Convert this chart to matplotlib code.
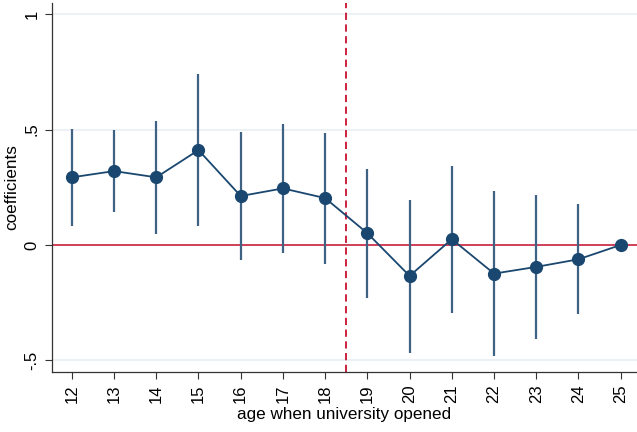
import numpy as np
import matplotlib
matplotlib.use("Agg")
import matplotlib.pyplot as plt

plt.rcParams['font.family'] = ['Liberation Sans', 'DejaVu Sans']

# age when university opened
ages = [12, 13, 14, 15, 16, 17, 18, 19, 20, 21, 22, 23, 24, 25]
# point estimates
coefs = [0.293, 0.320, 0.293, 0.411, 0.212, 0.245, 0.203, 0.051,
         -0.134, 0.025, -0.124, -0.095, -0.062, 0.0]
# 95% CI bounds (age 25 is the reference category)
ci_low = [0.084, 0.143, 0.049, 0.084, -0.065, -0.036, -0.081, -0.228,
          -0.466, -0.293, -0.482, -0.408, -0.298, 0.0]
ci_high = [0.502, 0.496, 0.537, 0.739, 0.491, 0.524, 0.485, 0.328,
           0.195, 0.342, 0.232, 0.216, 0.176, 0.0]

ytick_vals = [-0.5, 0, 0.5, 1]
ytick_labels = ['-.5', '0', '.5', '1']
cutoff = 18.5

navy = '#1a476f'
ci_col = '#3e6283'
red = '#c8102e'

fig = plt.figure(figsize=(6.37, 4.32), dpi=100)
ax = fig.add_axes([0.0816, 0.139, 0.918, 0.854])

for y in ytick_vals:
    ax.axhline(y, color='#e8eff2', lw=1.2, zorder=0)

ax.axhline(0, color=red, lw=1.1, zorder=1)
ax.axvline(cutoff, color=red, lw=1.3, ls=(0, (4, 2.5)), zorder=1)

# CI spikes (skip the reference category)
for a, lo, hi in zip(ages, ci_low, ci_high):
    if lo != hi:
        ax.vlines(a, lo, hi, color=ci_col, lw=1.6, zorder=2)

ax.plot(ages, coefs, color=navy, lw=1.3, marker='o', ms=8.5,
        markerfacecolor=navy, markeredgecolor=navy, zorder=3)

ax.set_xlim(11.53, 25.38)
ax.set_ylim(-0.55, 1.048)
ax.set_xticks(ages)
ax.set_xticklabels([str(a) for a in ages], rotation=90, fontsize=12)
ax.set_yticks(ytick_vals)
ax.set_yticklabels(ytick_labels, rotation=90, va='center', fontsize=12)
ax.tick_params(direction='out', length=5, width=0.8, color='#333333', pad=4)

ax.set_xlabel('age when university opened', fontsize=12.3, labelpad=3)
ax.set_ylabel('coefficients', fontsize=12.3, labelpad=4)

for s in ['top', 'right']:
    ax.spines[s].set_visible(False)
for s in ['left', 'bottom']:
    ax.spines[s].set_color('#333333')
    ax.spines[s].set_linewidth(0.9)

fig.savefig('out.png', dpi=100)
